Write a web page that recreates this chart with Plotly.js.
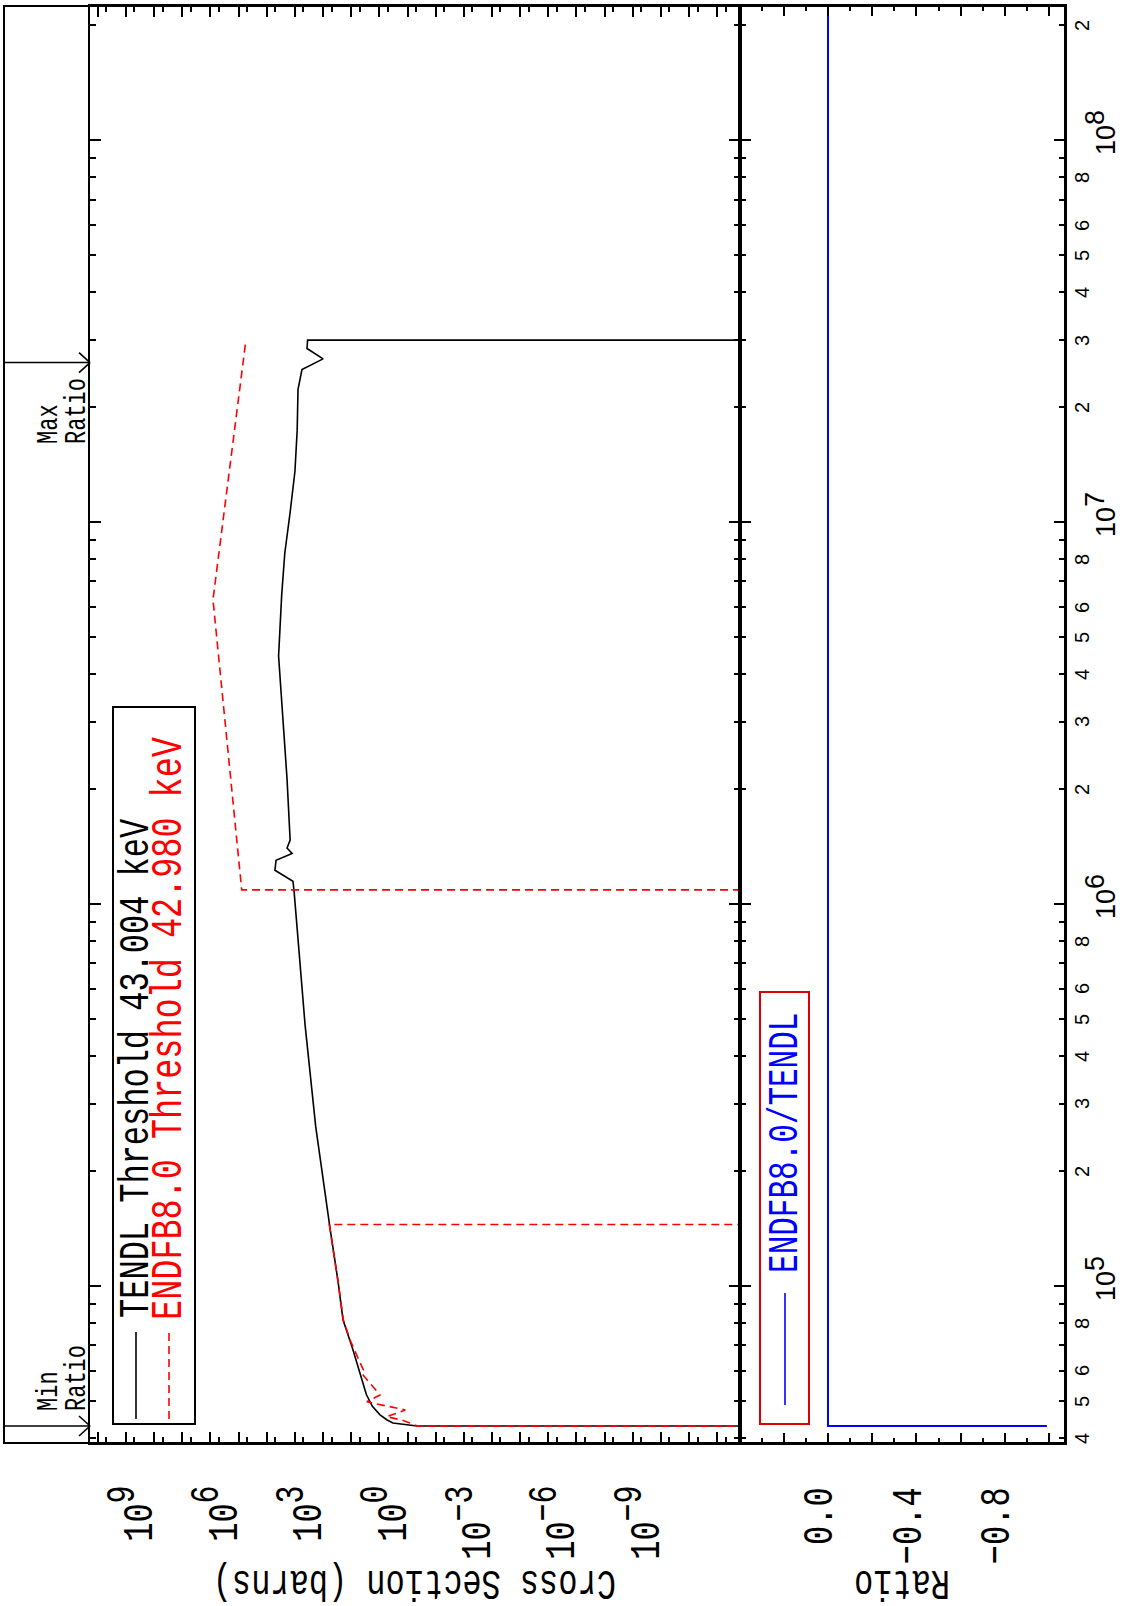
<!DOCTYPE html>
<html>
<head>
<meta charset="utf-8">
<script src="https://cdn.plot.ly/plotly-3.0.1.min.js"></script>
<style>
html,body{margin:0;padding:0;overflow:hidden;background:#fff;width:1126px;height:1606px;}
#wrap{position:absolute;left:0;top:0;width:1606px;height:1126px;transform-origin:0 0;transform:translate(0,1606px) rotate(-90deg);}
#plot{width:1606px;height:1126px;}
</style>
</head>
<body>
<div id="wrap"><div id="plot"></div></div>
<script>
// ---------------- data ----------------
const ZERO_XS = 1e-20; // cross section of zero, drawn off the bottom of the log axis

// TENDL (black, solid) : incident energy (eV) and cross section (barns)
const tendlEnergy = [43004, 43004, 43790, 44600, 46000, 48500, 52000, 59180, 69230, 81470,
  103000, 141000, 261000, 483000, 897000, 1080000, 1148000, 1227000, 1303000, 1358000,
  1403000, 1472000, 2128000, 3090000, 4467000, 6457000, 8299000, 10620000, 13580000,
  17380000, 22280000, 25120000, 26790000, 28510000, 30000000, 30000000];
const tendlXS = [ZERO_XS, 0.046, 0.33, 0.53, 0.95, 1.8, 2.9, 4.9, 9.3, 19.5,
  29.5, 56, 182, 436, 830, 1070, 1175, 5130, 4680, 1259,
  1905, 1479, 1905, 2692, 3802, 2951, 2291, 1479, 1000,
  832, 776, 562, 100, 372, 355, ZERO_XS];

// ENDF/B-VIII.0 (red, dashed)
const endfEnergy = [42980, 42980, 44590, 45480, 47360, 49780, 51840, 56170, 59100, 60260,
  67300, 72230, 81470, 103000, 140000, 145000, 145000, 1090000, 1090000, 6270000, 30000000];
const endfXS = [ZERO_XS, 0.043, 0.16, 0.55, 0.12, 2.8, 0.95, 2.45, 4.3, 3.7,
  7.4, 11, 19, 29.5, 56, 60, ZERO_XS, ZERO_XS, 77600, 813000, 55000];

// Ratio ENDFB8.0/TENDL (blue)
const ratioEnergy = [43004, 43004, 224700000];
const ratioValue = [-0.99, 0.0, 0.0];

// Min / Max ratio markers (energy, eV)
const minRatioEnergy = 43004;
const maxRatioEnergy = 26200000;

// tick labels
const xsLabelDecades = [9, 6, 3, 0, -3, -6, -9];
const ratioLabelVals = [0.0, -0.4, -0.8];
const ratioLabelText = ['0.0', '\u22120.4', '\u22120.8'];
const ratioOtherMajor = [0.2, -0.2, -0.6, -1.0];
const ratioMinorVals = [0.3, 0.1, -0.1, -0.3, -0.5, -0.7, -0.9];
const energyLabelMantissas = [2, 3, 4, 5, 6, 8];

// ---------------- geometry helpers (layout only) ----------------
const PX0 = 163, PX1 = 1600, PY0 = 90, PY1 = 1065;
const px = ox => (ox - PX0) / (PX1 - PX0);
const py = oy => (PY1 - oy) / (PY1 - PY0);
const xRange = [4.589, 8.352];
const ex = e => (Math.log10(e) - xRange[0]) / (xRange[1] - xRange[0]); // energy -> paper x

// energy ticks
const decadeTicks = [], minorEnergyTicks = [];
for (let n = 4; n <= 8; n++) {
  const d = Math.pow(10, n);
  if (Math.log10(d) >= xRange[0] && Math.log10(d) <= xRange[1]) decadeTicks.push(d);
  for (let m = 2; m <= 9; m++) {
    const v = m * d;
    if (Math.log10(v) >= xRange[0] && Math.log10(v) <= xRange[1]) minorEnergyTicks.push(v);
  }
}
// cross-section ticks
const xsLabelVals = [], xsLabelText = [], xsOtherDecades = [], xsHalf = [];
for (let n = -12; n <= 10; n++) {
  if (xsLabelDecades.includes(n)) {
    xsLabelVals.push(Math.pow(10, n));
    xsLabelText.push('10<sup><span style="font-size:30px">' + (n < 0 ? '\u2212' + (-n) : n) + '</span></sup>');
  } else {
    xsOtherDecades.push(Math.pow(10, n));
  }
  xsHalf.push(5 * Math.pow(10, n - 1));
}

const MONO = 'Liberation Mono';
const SANS = 'Liberation Sans';

const traces = [
  {x: tendlEnergy, y: tendlXS, xaxis: 'x', yaxis: 'y', mode: 'lines',
   line: {color: '#000000', width: 1.6}, hoverinfo: 'skip'},
  {x: endfEnergy, y: endfXS, xaxis: 'x', yaxis: 'y', mode: 'lines',
   line: {color: '#ff0000', width: 1.6, dash: '8px,5px'}, hoverinfo: 'skip'},
  {x: ratioEnergy, y: ratioValue, xaxis: 'x2', yaxis: 'y2', mode: 'lines',
   line: {color: '#0000ff', width: 2}, hoverinfo: 'skip'},
  // invisible helpers so the overlay tick axes are drawn
  {x: [1e5], y: [1], xaxis: 'x', yaxis: 'y3', mode: 'markers', marker: {opacity: 0}, hoverinfo: 'skip'},
  {x: [1e5], y: [0], xaxis: 'x2', yaxis: 'y4', mode: 'markers', marker: {opacity: 0}, hoverinfo: 'skip'}
];

const axisCommon = {
  showline: true, linecolor: '#000', linewidth: 2, mirror: 'ticks',
  ticks: 'inside', tickcolor: '#000', tickwidth: 2, showgrid: false, zeroline: false
};
const overlayCommon = {
  showline: false, mirror: 'ticks', ticks: 'inside', tickcolor: '#000', tickwidth: 2,
  showgrid: false, zeroline: false, showticklabels: false, tickmode: 'array'
};

const annotations = [];
// energy tick labels (bottom axis)
minorEnergyTicks.forEach(v => {
  const m = Math.round(v / Math.pow(10, Math.floor(Math.log10(v) + 1e-9)));
  if (energyLabelMantissas.includes(m)) {
    annotations.push({x: Math.log10(v), xref: 'x2', y: 0, yref: 'paper', xanchor: 'center', yanchor: 'top',
      yshift: -4, text: String(m), showarrow: false, font: {family: SANS, size: 20, color: '#000'}});
  }
});
decadeTicks.forEach(v => {
  annotations.push({x: Math.log10(v), xref: 'x2', y: 0, yref: 'paper', xanchor: 'center', yanchor: 'top',
    yshift: -13, xshift: 8,
    text: '10<sup><span style="font-size:27px">' + Math.round(Math.log10(v)) + '</span></sup>',
    showarrow: false, font: {family: SANS, size: 27, color: '#000'}});
});
// axis titles
annotations.push({x: px(23), y: py(415), xref: 'paper', yref: 'paper', xanchor: 'center', yanchor: 'middle',
  text: 'Cross Section (barns)', textangle: -90, showarrow: false, font: {family: MONO, size: 32, color: '#000'}});
annotations.push({x: px(23), y: py(902), xref: 'paper', yref: 'paper', xanchor: 'center', yanchor: 'middle',
  text: 'Ratio', textangle: -90, showarrow: false, font: {family: MONO, size: 32, color: '#000'}});
// legend texts
annotations.push({x: px(286), y: py(136), xref: 'paper', yref: 'paper', xanchor: 'left', yanchor: 'middle',
  text: 'TENDL Threshold 43.004 keV', showarrow: false, font: {family: MONO, size: 32, color: '#000'}});
annotations.push({x: px(284), y: py(169), xref: 'paper', yref: 'paper', xanchor: 'left', yanchor: 'middle',
  text: 'ENDFB8.0 Threshold 42.980 keV', showarrow: false, font: {family: MONO, size: 33.5, color: '#ff0000'}});
annotations.push({x: px(331), y: py(785), xref: 'paper', yref: 'paper', xanchor: 'left', yanchor: 'middle',
  text: 'ENDFB8.0/TENDL', showarrow: false, font: {family: MONO, size: 31, color: '#0000ff'}});
// min / max ratio labels (one annotation per line)
[['Min', 49], ['Ratio', 78]].forEach(([t, oy]) => {
  annotations.push({x: ex(minRatioEnergy), xref: 'paper', y: py(oy), yref: 'paper', xanchor: 'left',
    yanchor: 'middle', xshift: 13, text: t, showarrow: false, font: {family: MONO, size: 22, color: '#000'}});
});
[['Max', 49], ['Ratio', 78]].forEach(([t, oy]) => {
  annotations.push({x: ex(maxRatioEnergy) - 83 / (PX1 - PX0), xref: 'paper', y: py(oy), yref: 'paper', xanchor: 'left',
    yanchor: 'middle', text: t, showarrow: false, font: {family: MONO, size: 22, color: '#000'}});
});

const shapes = [
  // outer frame including the min/max strip
  {type: 'rect', xref: 'paper', yref: 'paper', x0: 0, x1: 1, y0: 0, y1: py(4),
   line: {color: '#000', width: 2}},
  // legend 1
  {type: 'rect', xref: 'paper', yref: 'paper', x0: px(182), x1: px(899), y0: py(195), y1: py(113),
   line: {color: '#000', width: 2}},
  {type: 'line', xref: 'paper', yref: 'paper', x0: px(187), x1: px(274), y0: py(136), y1: py(136),
   line: {color: '#000', width: 1.6}},
  {type: 'line', xref: 'paper', yref: 'paper', x0: px(187), x1: px(274), y0: py(169), y1: py(169),
   line: {color: '#ff0000', width: 1.6, dash: '8px,5px'}},
  // legend 2
  {type: 'rect', xref: 'paper', yref: 'paper', x0: px(182), x1: px(614), y0: py(809), y1: py(760),
   line: {color: '#dd0000', width: 2}},
  {type: 'line', xref: 'paper', yref: 'paper', x0: px(201), x1: px(313), y0: py(785), y1: py(785),
   line: {color: '#0000ff', width: 1.6}}
];
// min / max ratio arrows (line + open head)
const HEAD = 10 / (PX1 - PX0);
[minRatioEnergy, maxRatioEnergy].forEach(e => {
  const x = ex(e);
  shapes.push({type: 'line', xref: 'paper', yref: 'paper', x0: x, x1: x, y0: py(4), y1: 1, line: {color: '#000', width: 1.6}});
  shapes.push({type: 'line', xref: 'paper', yref: 'paper', x0: x - HEAD, x1: x, y0: py(79), y1: 1, line: {color: '#000', width: 1.6}});
  shapes.push({type: 'line', xref: 'paper', yref: 'paper', x0: x + HEAD, x1: x, y0: py(79), y1: 1, line: {color: '#000', width: 1.6}});
});

const layout = {
  width: 1606, height: 1126,
  margin: {l: PX0, r: 1606 - PX1, t: PY0, b: 1126 - PY1, pad: 0},
  paper_bgcolor: '#fff', plot_bgcolor: '#fff',
  showlegend: false, hovermode: false,
  font: {family: MONO, size: 20, color: '#000'},
  xaxis: Object.assign({}, axisCommon, {type: 'log', range: xRange, anchor: 'y', matches: 'x2',
    showticklabels: false, tickmode: 'array', tickvals: decadeTicks, ticklen: 11,
    minor: {tickmode: 'array', tickvals: minorEnergyTicks, ticks: 'inside', ticklen: 6, tickwidth: 2, tickcolor: '#000'}}),
  xaxis2: Object.assign({}, axisCommon, {type: 'log', range: xRange, anchor: 'y2',
    showticklabels: false, tickmode: 'array', tickvals: decadeTicks, ticklen: 11,
    minor: {tickmode: 'array', tickvals: minorEnergyTicks, ticks: 'inside', ticklen: 6, tickwidth: 2, tickcolor: '#000'}}),
  yaxis: Object.assign({}, axisCommon, {type: 'log', range: [-12.81, 10.279], domain: [py(740), 1], anchor: 'x',
    tickmode: 'array', tickvals: xsLabelVals, ticktext: xsLabelText, ticklen: 11,
    ticklabelstandoff: 34, ticklabelshift: 10,
    tickfont: {family: MONO, size: 32, color: '#000'},
    minor: {tickmode: 'array', tickvals: xsOtherDecades, ticks: 'inside', ticklen: 11, tickwidth: 2, tickcolor: '#000'}}),
  yaxis3: Object.assign({}, overlayCommon, {type: 'log', range: [-12.81, 10.279], overlaying: 'y', anchor: 'x',
    tickvals: xsHalf, ticklen: 6}),
  yaxis2: Object.assign({}, axisCommon, {range: [-1.072, 0.398], domain: [0, py(740)], anchor: 'x2',
    tickmode: 'array', tickvals: ratioLabelVals, ticktext: ratioLabelText, ticklen: 10,
    ticklabelstandoff: 36, ticklabelshift: -10,
    tickfont: {family: MONO, size: 32, color: '#000'},
    minor: {tickmode: 'array', tickvals: ratioOtherMajor, ticks: 'inside', ticklen: 10, tickwidth: 2, tickcolor: '#000'}}),
  yaxis4: Object.assign({}, overlayCommon, {range: [-1.072, 0.398], overlaying: 'y2', anchor: 'x2',
    tickvals: ratioMinorVals, ticklen: 5}),
  annotations: annotations,
  shapes: shapes
};

// flatten <sup><span> pairs into a single sized tspan (keeping the raise in px)
function flattenSpans(gd) {
  gd.querySelectorAll('tspan').forEach(t => {
    const kids = t.querySelectorAll('tspan');
    if (kids.length === 1 && t.childNodes.length === 1) {
      const fs = parseFloat(getComputedStyle(t).fontSize);
      const dy = t.getAttribute('dy');
      if (dy && /em$/.test(dy)) t.setAttribute('dy', (parseFloat(dy) * fs).toFixed(2));
      const c = kids[0];
      const cfs = getComputedStyle(c).fontSize;
      const txt = c.textContent;
      t.style.fontSize = cfs;
      t.textContent = txt;
    }
  });
}
// remove the empty zero-width baseline-reset spans that follow superscripts
function dropEmptySpans(gd) {
  gd.querySelectorAll('tspan').forEach(s => {
    if (!s.children.length && s.textContent.replace(/\u200b/g, '').trim() === '') s.remove();
  });
}
// the reference lettering is tall and narrow: stretch the monospaced texts vertically
function stretchMono(gd, s) {
  gd.querySelectorAll('text').forEach(t => {
    const ff = (t.style.fontFamily || '') + (t.getAttribute('style') || '');
    if (ff.indexOf('Mono') < 0) return;
    const b = t.getBBox();
    if (!b.width || !b.height) return;
    const cx = b.x + b.width / 2, cy = b.y + b.height / 2;
    const prev = t.getAttribute('transform') || '';
    t.setAttribute('transform', prev + ' translate(' + cx + ',' + cy + ') scale(1,' + s + ') translate(' + (-cx) + ',' + (-cy) + ')');
  });
}

Plotly.newPlot('plot', traces, layout, {staticPlot: true, displayModeBar: false}).then(gd => {
  flattenSpans(gd);
  dropEmptySpans(gd);
  stretchMono(gd, 1.35);
});
</script>
</body>
</html>
